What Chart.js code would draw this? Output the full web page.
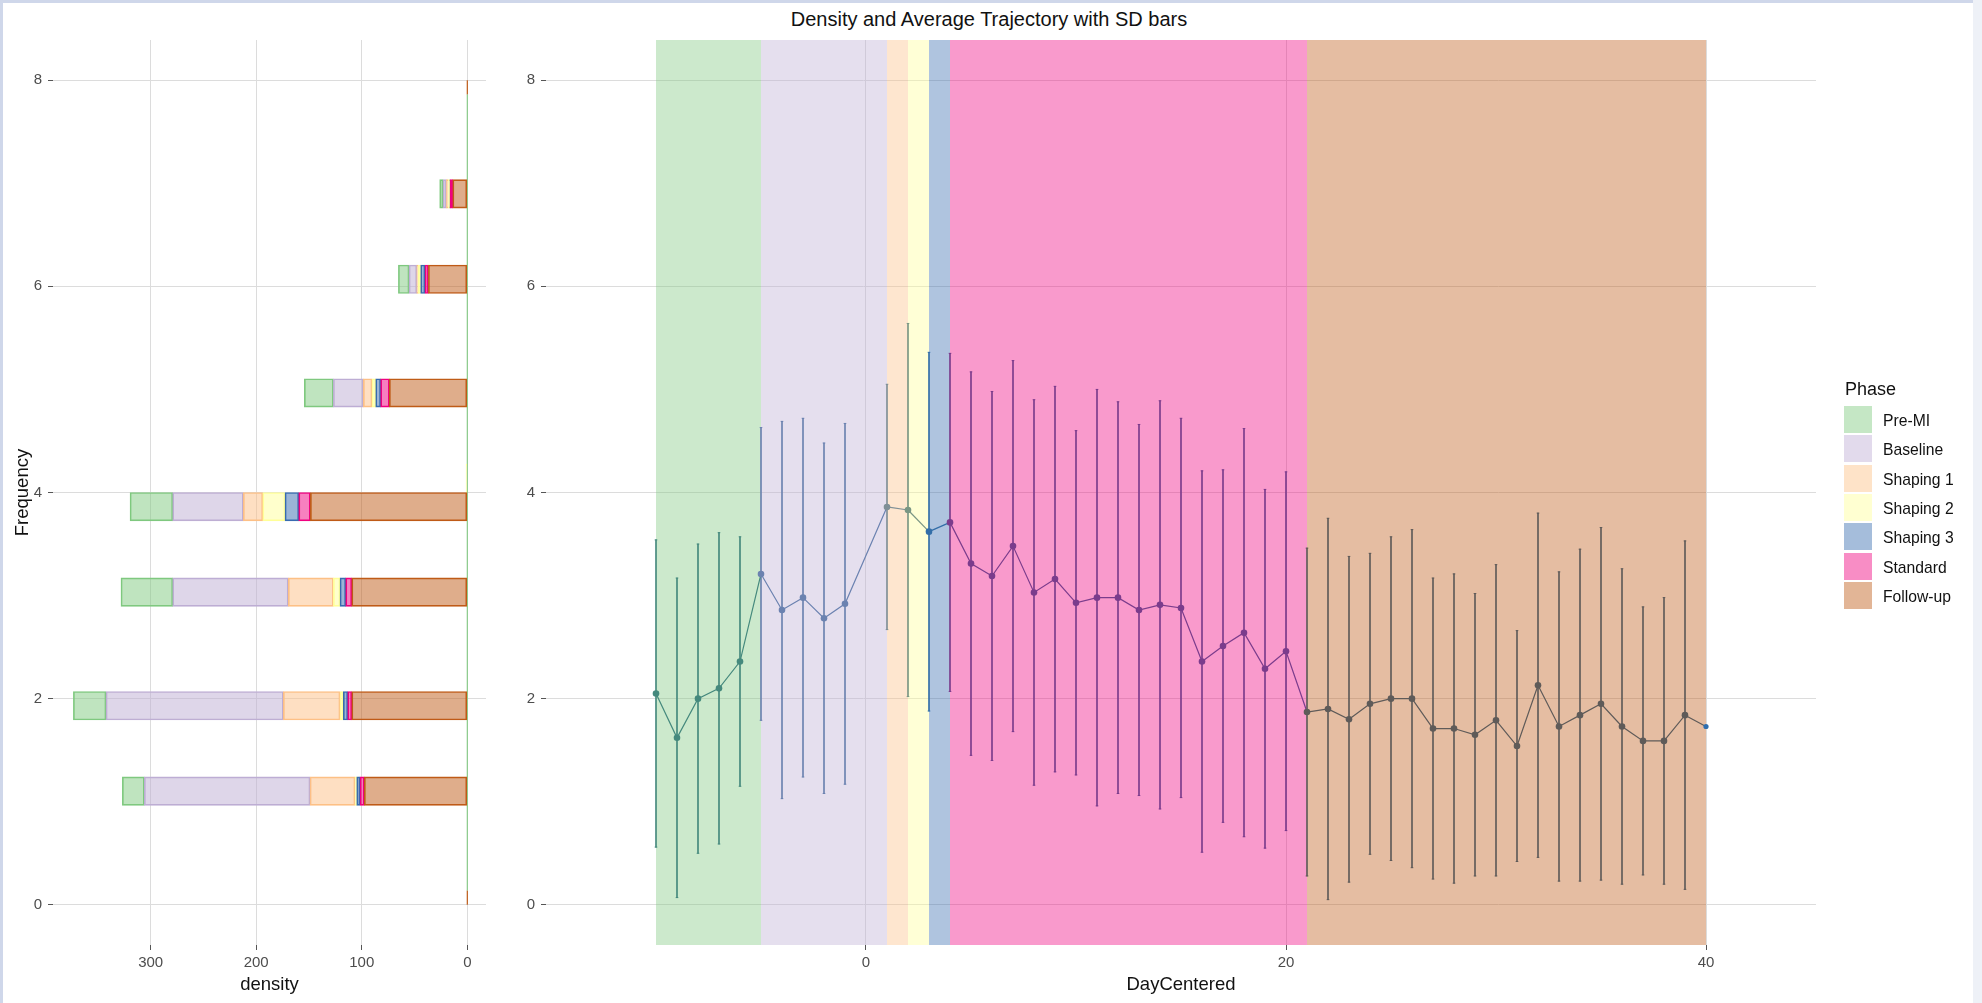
<!DOCTYPE html>
<html>
<head>
<meta charset="utf-8">
<script src="https://cdn.jsdelivr.net/npm/chart.js@4.4.1/dist/chart.umd.min.js"></script>
<style>
  html, body { margin: 0; padding: 0; background: #fff; }
  body { width: 1982px; height: 1003px; position: relative; overflow: hidden;
         font-family: "Liberation Sans", Arial, sans-serif; }
  .frame { position: absolute; }
  #frameTop { left: 0; top: 0; width: 1982px; height: 3px; background: #cfd7ea; }
  #frameLeft { left: 0; top: 0; width: 3px; height: 1003px; background: #cfd7ea; }
  #frameRight { left: 1973px; top: 0; width: 9px; height: 1003px; background: #eef1f7; }
  #title { position: absolute; left: 0; top: 9px; width: 1978px; text-align: center;
           font-size: 20px; line-height: 20px; color: #111; white-space: nowrap; }
  #densityChart { position: absolute; left: 0; top: 0; }
  #trajectoryChart { position: absolute; left: 500px; top: 0; }
  #legend { position: absolute; left: 0; top: 0; }
  .legend-title { position: absolute; font-size: 18px; line-height: 18px; color: #111; white-space: nowrap; }
  .legend-key { position: absolute; width: 28px; height: 27px; }
  .legend-label { position: absolute; font-size: 15.7px; line-height: 16px; color: #111; white-space: nowrap; }
</style>
</head>
<body>
<div class="frame" id="frameTop"></div>
<div class="frame" id="frameLeft"></div>
<div class="frame" id="frameRight"></div>
<div id="title">Density and Average Trajectory with SD bars</div>
<canvas id="densityChart" width="500" height="1003"></canvas>
<canvas id="trajectoryChart" width="1473" height="1003"></canvas>
<div id="legend"></div>

<script>
// ---- Phases ----
const PHASES      = ['Pre-MI', 'Baseline', 'Shaping 1', 'Shaping 2', 'Shaping 3', 'Standard', 'Follow-up'];
const PHASE_FILL  = ['#7FC97F', '#BEAED4', '#FDC086', '#FFFF99', '#386CB0', '#F0027F', '#BF5B17'];
const PHASE_LINE  = ['#45897d', '#6b82b0', '#7f8f96', '#7a9684', '#336ea8', '#7b3c8c', '#5f5b59'];
const PHASE_START = [-10, -5, 1, 2, 3, 4, 21];
const PHASE_END   = [-5, 1, 2, 3, 4, 21, 40];

// ---- Daily average trajectory (mean and SD per centered day) ----
const DAYS = [-10, -9, -8, -7, -6, -5, -4, -3, -2, -1,
              1, 2, 3, 4, 5, 6, 7, 8, 9, 10, 11, 12, 13, 14, 15, 16, 17, 18, 19, 20,
              21, 22, 23, 24, 25, 26, 27, 28, 29, 30, 31, 32, 33, 34, 35, 36, 37, 38, 39, 40];
const MEAN = [2.05, 1.62, 2.00, 2.10, 2.36, 3.21, 2.86, 2.98, 2.78, 2.92,
              3.86, 3.83, 3.62, 3.71, 3.31, 3.19, 3.48, 3.03, 3.16, 2.93, 2.98, 2.98, 2.86, 2.91, 2.88, 2.36, 2.51, 2.64, 2.29, 2.46,
              1.87, 1.90, 1.80, 1.95, 2.00, 2.00, 1.71, 1.71, 1.65, 1.79, 1.54, 2.13, 1.73, 1.84, 1.95, 1.73, 1.59, 1.59, 1.84, 1.73];
const SD   = [1.49, 1.55, 1.50, 1.51, 1.21, 1.42, 1.83, 1.74, 1.70, 1.75,
              1.19, 1.81, 1.74, 1.64, 1.86, 1.79, 1.80, 1.87, 1.87, 1.67, 2.02, 1.90, 1.80, 1.98, 1.84, 1.85, 1.71, 1.98, 1.74, 1.74,
              1.59, 1.85, 1.58, 1.46, 1.57, 1.64, 1.46, 1.50, 1.37, 1.51, 1.12, 1.67, 1.50, 1.61, 1.71, 1.53, 1.30, 1.39, 1.69, null];
const SINGLE_OBS_COLOR = '#2f6fb0';

// ---- Frequency histogram (density per phase, stacked) ----
const FREQ_BINS     = [1.103, 1.931, 3.034, 3.862, 4.138, 4.966, 6.069, 6.897];
const DENS_PREMI    = [20.8, 30.9, 49.0, 40.4, 0, 27.5, 10.1, 3.2];
const DENS_BASELINE = [157.0, 168.0, 109.5, 66.9, 0, 28.4, 7.3, 3.2];
const DENS_SHAPING1 = [42.6, 53.7, 42.7, 18.4, 0, 8.2, 1.5, 1.6];
const DENS_SHAPING2 = [1.6, 3.1, 6.3, 21.1, 1.2, 3.5, 2.2, 1.6];
const DENS_SHAPING3 = [3.2, 4.2, 5.4, 13.0, 0, 4.7, 4.1, 0.3];
const DENS_STANDARD = [4.0, 3.8, 5.7, 11.0, 0, 8.2, 3.2, 2.5];
const DENS_FOLLOWUP = [97.6, 109.5, 109.5, 148.7, 0, 73.9, 36.9, 13.8];
const DENS_BY_PHASE = [DENS_PREMI, DENS_BASELINE, DENS_SHAPING1, DENS_SHAPING2, DENS_SHAPING3, DENS_STANDARD, DENS_FOLLOWUP];
// empty bins: outline traces along density 0
const EMPTY_SPAN_PREMI     = [0.138, 7.862];
const EMPTY_SPANS_FOLLOWUP = [[0, 0.138], [7.862, 8]];

// ---- Axis ranges and ticks ----
const FREQ_MIN = -0.39, FREQ_MAX = 8.39;
const FREQ_TICKS = [0, 2, 4, 6, 8];
const DENSITY_MIN = -17.7, DENSITY_MAX = 392.5;
const DENSITY_TICKS = [0, 100, 200, 300];
const DAY_MIN = -320 / 21, DAY_MAX = 950 / 21;
const DAY_TICKS = [0, 20, 40];

// ---- helpers ----
const FONT_FAMILY = '"Liberation Sans", Arial, sans-serif';
function rgba(hex, a) {
  const n = parseInt(hex.slice(1), 16);
  return `rgba(${(n >> 16) & 255}, ${(n >> 8) & 255}, ${n & 255}, ${a})`;
}
function fixedTicks(values) {
  return scale => { scale.ticks = values.map(v => ({ value: v })); };
}
function phaseOfDay(d) {
  for (let p = 0; p < PHASES.length; p++) {
    if (d >= PHASE_START[p] && d < PHASE_END[p]) return p;
  }
  return PHASES.length - 1;
}
const GRID = { color: '#dcdcdc', lineWidth: 1, drawTicks: true, tickLength: 5, tickColor: '#555',
               tickWidth: 1, offset: false };
const TICK_FONT = { family: FONT_FAMILY, size: 15 };
const TICK_COLOR = '#4d4d4d';
const AXIS_TITLE_FONT = { family: FONT_FAMILY, size: 18.5, lineHeight: 1 };

Chart.defaults.font.family = FONT_FAMILY;

// ================= Left panel: stacked density histogram =================
const histDatasets = [];
// stacked from density 0 outward: Follow-up first, Pre-MI last
for (let p = PHASES.length - 1; p >= 0; p--) {
  histDatasets.push({
    type: 'bar',
    label: PHASES[p],
    data: FREQ_BINS.map((f, i) => ({ x: DENS_BY_PHASE[p][i], y: f })),
    backgroundColor: rgba(PHASE_FILL[p], 0.5),
    borderColor: PHASE_FILL[p],
    borderWidth: 1,
    borderSkipped: false,
    stack: 'hist',
    order: 1
  });
}
histDatasets.push({
  type: 'line',
  label: 'empty-premi',
  data: EMPTY_SPAN_PREMI.map(y => ({ x: 0, y })),
  borderColor: rgba(PHASE_FILL[0], 0.9),
  borderWidth: 1.2,
  pointRadius: 0,
  stack: 'e0',
  order: 5
});
EMPTY_SPANS_FOLLOWUP.forEach((span, k) => {
  histDatasets.push({
    type: 'line',
    label: 'empty-followup-' + k,
    data: span.map(y => ({ x: 0, y })),
    borderColor: PHASE_FILL[6],
    borderWidth: 1.2,
    pointRadius: 0,
    stack: 'e' + (k + 1),
    order: 5
  });
});

new Chart(document.getElementById('densityChart'), {
  type: 'bar',
  data: { datasets: histDatasets },
  options: {
    indexAxis: 'y',
    responsive: false,
    animation: false,
    events: [],
    layout: { padding: { top: 40, right: 14, left: 0, bottom: 0 } },
    plugins: { legend: { display: false }, tooltip: { enabled: false }, title: { display: false } },
    datasets: { bar: { categoryPercentage: 1, barPercentage: 1 } },
    scales: {
      x: {
        type: 'linear', reverse: true, min: DENSITY_MIN, max: DENSITY_MAX, stacked: true, offset: false,
        afterBuildTicks: fixedTicks(DENSITY_TICKS),
        afterFit: s => { s.height = 58; },
        grid: GRID, border: { display: false },
        ticks: { font: TICK_FONT, color: TICK_COLOR, padding: 4, maxRotation: 0 },
        title: { display: true, text: 'density', color: '#111', font: AXIS_TITLE_FONT,
                 padding: { top: 0, bottom: 9 } }
      },
      y: {
        type: 'linear', min: FREQ_MIN, max: FREQ_MAX, stacked: true, offset: false,
        afterBuildTicks: fixedTicks(FREQ_TICKS),
        afterFit: s => { s.width = 53; },
        grid: GRID, border: { display: false },
        ticks: { font: TICK_FONT, color: TICK_COLOR, padding: 6 },
        title: { display: true, text: 'Frequency', color: '#111', font: AXIS_TITLE_FONT,
                 padding: { top: 14, bottom: 0 } }
      }
    }
  }
});

// ================= Right panel: phases and average trajectory =================
const dayPhase = DAYS.map(phaseOfDay);
const pointColor = DAYS.map((d, i) => SD[i] == null ? SINGLE_OBS_COLOR : PHASE_LINE[dayPhase[i]]);

const bandDatasets = PHASES.map((name, p) => ({
  type: 'line',
  label: name,
  data: [{ x: PHASE_START[p], y: FREQ_MAX }, { x: PHASE_END[p], y: FREQ_MAX }],
  fill: 'start',
  backgroundColor: rgba(PHASE_FILL[p], 0.4),
  borderColor: 'rgba(0,0,0,0)',
  borderWidth: 0,
  pointRadius: 0,
  order: 10
}));

const sdIdx = DAYS.map((d, i) => i).filter(i => SD[i] != null);

const errorBars = {
  type: 'bar',
  label: 'SD',
  data: sdIdx.map(i => ({ x: DAYS[i], y: [MEAN[i] - SD[i], MEAN[i] + SD[i]] })),
  backgroundColor: sdIdx.map(i => PHASE_LINE[dayPhase[i]]),
  borderWidth: 0,
  barThickness: 1,
  order: 3
};
const capsLow = {
  type: 'scatter',
  label: 'SD low',
  data: sdIdx.map(i => ({ x: DAYS[i], y: MEAN[i] - SD[i] })),
  pointStyle: 'line',
  pointRadius: 1.3,
  pointBorderWidth: 1,
  pointBorderColor: sdIdx.map(i => PHASE_LINE[dayPhase[i]]),
  showLine: false,
  order: 3
};
const capsHigh = Object.assign({}, capsLow, {
  label: 'SD high',
  data: sdIdx.map(i => ({ x: DAYS[i], y: MEAN[i] + SD[i] }))
});

const meanLine = {
  type: 'line',
  label: 'Mean',
  data: DAYS.map((d, i) => ({ x: d, y: MEAN[i] })),
  borderWidth: 1.2,
  borderColor: PHASE_LINE[0],
  segment: { borderColor: ctx => PHASE_LINE[dayPhase[ctx.p0DataIndex]] },
  pointRadius: DAYS.map((d, i) => SD[i] == null ? 2.6 : 3.3),
  pointBackgroundColor: pointColor,
  pointBorderColor: pointColor,
  pointBorderWidth: 0,
  tension: 0,
  fill: false,
  order: 1
};

new Chart(document.getElementById('trajectoryChart'), {
  type: 'line',
  data: { datasets: [...bandDatasets, errorBars, capsLow, capsHigh, meanLine] },
  options: {
    responsive: false,
    animation: false,
    events: [],
    layout: { padding: { top: 40, right: 157, left: 0, bottom: 0 } },
    plugins: { legend: { display: false }, tooltip: { enabled: false }, title: { display: false } },
    scales: {
      x: {
        type: 'linear', min: DAY_MIN, max: DAY_MAX, offset: false,
        afterBuildTicks: fixedTicks(DAY_TICKS),
        afterFit: s => { s.height = 58; },
        grid: GRID, border: { display: false },
        ticks: { font: TICK_FONT, color: TICK_COLOR, padding: 4, maxRotation: 0 },
        title: { display: true, text: 'DayCentered', color: '#111', font: AXIS_TITLE_FONT,
                 padding: { top: 0, bottom: 9 } }
      },
      y: {
        type: 'linear', min: FREQ_MIN, max: FREQ_MAX, offset: false,
        afterBuildTicks: fixedTicks(FREQ_TICKS),
        afterFit: s => { s.width = 46; },
        grid: GRID, border: { display: false },
        ticks: { font: TICK_FONT, color: TICK_COLOR, padding: 6 }
      }
    }
  }
});

// ================= Legend =================
const legend = document.getElementById('legend');
const LEG_LEFT = 1844, LEG_TITLE_TOP = 380, LEG_KEY_TOP = 406, LEG_STEP = 29.3;
const legTitle = document.createElement('div');
legTitle.className = 'legend-title';
legTitle.style.left = (LEG_LEFT + 1) + 'px';
legTitle.style.top = LEG_TITLE_TOP + 'px';
legTitle.textContent = 'Phase';
legend.appendChild(legTitle);
PHASES.forEach((name, p) => {
  const key = document.createElement('div');
  key.className = 'legend-key';
  key.style.left = LEG_LEFT + 'px';
  key.style.top = (LEG_KEY_TOP + p * LEG_STEP) + 'px';
  key.style.background = rgba(PHASE_FILL[p], 0.45);
  legend.appendChild(key);
  const lab = document.createElement('div');
  lab.className = 'legend-label';
  lab.style.left = (LEG_LEFT + 39) + 'px';
  lab.style.top = (LEG_KEY_TOP + 7 + p * LEG_STEP) + 'px';
  lab.textContent = name;
  legend.appendChild(lab);
});
</script>
</body>
</html>
